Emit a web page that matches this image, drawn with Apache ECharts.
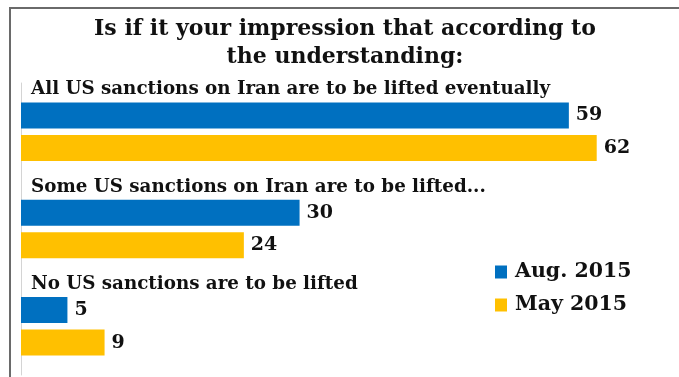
<!DOCTYPE html>
<html>
<head>
<meta charset="utf-8">
<script src="https://cdn.jsdelivr.net/npm/echarts@6/dist/echarts.min.js"></script>
<style>
  html, body { margin: 0; padding: 0; background: #fff; }
  #frame { position: absolute; left: 9px; top: 7px; width: 670px; height: 370px;
           border-left: 2px solid #6a6a6a; border-top: 2px solid #6a6a6a; box-sizing: border-box; }
  #chart { position: absolute; left: 0; top: 0; width: 679px; height: 377px; }
</style>
</head>
<body>
<div id="frame"></div>
<div id="chart"></div>
<script>
// Survey answers, one band per statement
const categories = [
  'All US sanctions on Iran are to be lifted eventually',
  'Some US sanctions on Iran are to be lifted...',
  'No US sanctions are to be lifted'
];
const seriesNames = ['Aug. 2015', 'May 2015'];
const aug2015 = [59, 30, 5];
const may2015 = [62, 24, 9];

const SERIF = '"DejaVu Serif", "Liberation Serif", serif';

const chart = echarts.init(document.getElementById('chart'), null, { renderer: 'canvas' });

const valueLabel = {
  show: true,
  position: 'right',
  distance: 7,
  color: '#111',
  fontFamily: SERIF,
  fontWeight: 'bold',
  fontSize: 19
};

chart.setOption({
  backgroundColor: 'transparent',
  animation: false,
  title: {
    text: 'Is if it your impression that according to\nthe understanding:',
    left: 345,
    top: 10,
    textAlign: 'center',
    padding: [5, 0, 5, 0],
    textStyle: {
      fontFamily: SERIF,
      fontWeight: 'bold',
      fontSize: 22,
      lineHeight: 28,
      color: '#111'
    }
  },
  legend: {
    data: seriesNames,
    orient: 'vertical',
    left: 495,
    top: 260,
    padding: 0,
    itemWidth: 12,
    itemHeight: 13,
    itemGap: 9,
    icon: 'rect',
    textStyle: {
      fontFamily: SERIF,
      fontWeight: 'bold',
      fontSize: 20.5,
      lineHeight: 24,
      color: '#111',
      padding: [0, 0, 0, 3]
    }
  },
  grid: { left: 21, right: 8, top: 83, height: 292, containLabel: false },
  xAxis: {
    type: 'value',
    min: 0,
    max: 70,
    show: false
  },
  yAxis: {
    type: 'category',
    data: categories,
    inverse: true,
    axisLine: { show: true, lineStyle: { color: '#d4d4d4', width: 1 } },
    axisTick: { show: false },
    splitLine: { show: false },
    axisLabel: {
      inside: true,
      margin: 10,
      verticalAlign: 'bottom',
      padding: [0, 0, 33, 0],
      color: '#111',
      fontFamily: SERIF,
      fontWeight: 'bold',
      fontSize: 18.3
    }
  },
  series: [
    {
      name: seriesNames[0],
      type: 'bar',
      data: aug2015,
      barWidth: 26,
      barGap: '25%',
      itemStyle: { color: '#0070C0' },
      label: valueLabel
    },
    {
      name: seriesNames[1],
      type: 'bar',
      data: may2015,
      barWidth: 26,
      barGap: '25%',
      itemStyle: { color: '#FFC000' },
      label: valueLabel
    }
  ]
});
</script>
</body>
</html>
